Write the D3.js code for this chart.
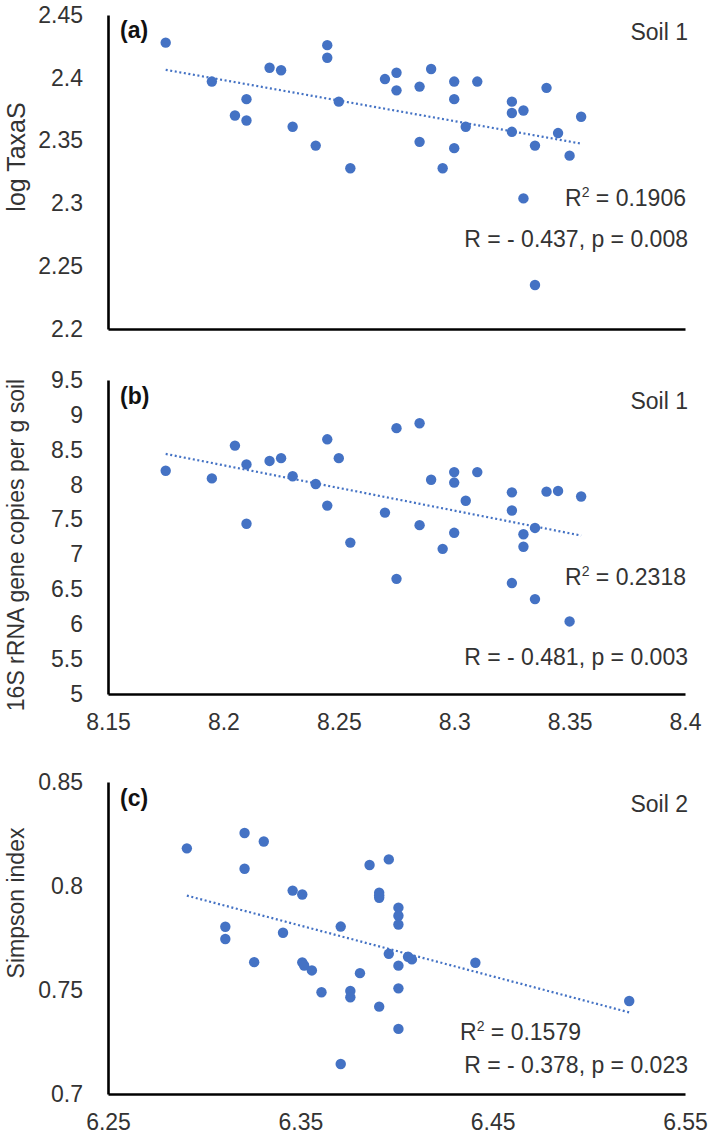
<!DOCTYPE html>
<html>
<head>
<meta charset="utf-8">
<script src="https://cdn.jsdelivr.net/npm/d3@7"></script>
<style>
  html, body { margin: 0; padding: 0; background: #fff; }
  svg { display: block; }
  text { font-family: "Liberation Sans", Arial, sans-serif; }
</style>
</head>
<body>
<svg id="chart" width="714" height="1144"></svg>
<script>
// ---------- DATA ----------
// Panel (a): Soil 1, x vs log TaxaS
const xA = [8.175,8.195,8.205,8.21,8.21,8.22,8.225,8.23,8.24,8.245,8.245,8.25,8.255,8.27,8.275,8.275,8.285,8.29,8.30,8.30,8.31,8.285,8.30,8.295,8.305,8.325,8.325,8.33,8.325,8.34,8.345,8.335,8.355,8.35,8.33,8.335];
const yA = [2.428,2.397,2.370,2.383,2.366,2.408,2.406,2.361,2.346,2.426,2.416,2.381,2.328,2.399,2.404,2.390,2.393,2.407,2.397,2.383,2.397,2.349,2.344,2.328,2.361,2.381,2.372,2.374,2.357,2.392,2.356,2.346,2.369,2.338,2.304,2.235];

// Panel (b): Soil 1, x vs 16S rRNA gene copies per g soil
const xB = [8.175,8.195,8.205,8.21,8.21,8.22,8.225,8.23,8.24,8.245,8.245,8.25,8.255,8.27,8.275,8.275,8.285,8.285,8.29,8.30,8.30,8.31,8.305,8.30,8.295,8.325,8.325,8.34,8.345,8.355,8.335,8.33,8.33,8.325,8.335,8.35];
const yB = [8.20,8.09,8.56,8.29,7.44,8.34,8.38,8.12,8.01,8.65,7.70,8.38,7.17,7.60,8.81,6.65,8.88,7.42,8.07,8.18,8.03,8.18,7.77,7.31,7.08,7.89,7.63,7.90,7.91,7.83,7.38,7.29,7.11,6.59,6.36,6.04];

// Panel (c): Soil 2, x vs Simpson index
const xC = [6.291,6.321,6.331,6.321,6.346,6.351,6.311,6.311,6.341,6.371,6.326,6.351,6.352,6.356,6.361,6.376,6.376,6.381,6.391,6.386,6.396,6.391,6.391,6.396,6.401,6.401,6.401,6.406,6.401,6.401,6.401,6.371,6.441,6.521,6.408,6.391];
const yC = [0.8181,0.8255,0.8214,0.8083,0.7978,0.7959,0.7804,0.7745,0.7775,0.7805,0.7634,0.7633,0.7618,0.7594,0.7489,0.7495,0.7465,0.7581,0.7420,0.8101,0.8128,0.7968,0.7943,0.7674,0.7896,0.7857,0.7815,0.7660,0.7617,0.7508,0.7313,0.7144,0.7631,0.7447,0.7647,0.7955];

// Axis ticks
const xTicksAB = [8.15, 8.2, 8.25, 8.3, 8.35, 8.4];
const yTicksA = [2.2, 2.25, 2.3, 2.35, 2.4, 2.45];
const yTicksB = [5, 5.5, 6, 6.5, 7, 7.5, 8, 8.5, 9, 9.5];
const xTicksC = [6.25, 6.35, 6.45, 6.55];
const yTicksC = [0.7, 0.75, 0.8, 0.85];

// Texts
const panelLabels = ["(a)", "(b)", "(c)"];
const soilLabels = ["Soil 1", "Soil 1", "Soil 2"];
const r2Values = ["0.1906", "0.2318", "0.1579"];
const rpTexts = ["R = - 0.437, p = 0.008", "R = - 0.481, p = 0.003", "R = - 0.378, p = 0.023"];
const yTitles = ["log TaxaS", "16S rRNA gene copies per g soil", "Simpson index"];

// ---------- LAYOUT ----------
const svg = d3.select("#chart");
const left = 108, right = 685;
const blue = "#4472C4";
const textColor = "#333";
const fs = 23;

const panels = [
  { x: xA, y: yA, xDom: [8.15, 8.4], yDom: [2.2, 2.45], top: 15, bottom: 329, xt: null, yt: yTicksA,
    lab: [120, 38], soil: [688, 40], r2: {x: 686, y: 206, anchor: "end"}, rp: [688, 247], title: [25, 157], tfs: 25 },
  { x: xB, y: yB, xDom: [8.15, 8.4], yDom: [5, 9.5], top: 380, bottom: 694, xt: xTicksAB, yt: yTicksB,
    lab: [120, 404], soil: [688, 409], r2: {x: 686, y: 585, anchor: "end"}, rp: [688, 665], title: [24, 545], tfs: 23 },
  { x: xC, y: yC, xDom: [6.25, 6.55], yDom: [0.7, 0.85], top: 782, bottom: 1094, xt: xTicksC, yt: yTicksC,
    lab: [120, 806], soil: [688, 812], r2: {x: 460, y: 1040, anchor: "start"}, rp: [688, 1073], title: [24, 903], tfs: 23 }
];

panels.forEach((p, i) => {
  const x = d3.scaleLinear().domain(p.xDom).range([left, right]);
  const y = d3.scaleLinear().domain(p.yDom).range([p.bottom, p.top]);
  const g = svg.append("g");

  // Y axis
  const ya = g.append("g").attr("transform", `translate(${left},0)`)
    .call(d3.axisLeft(y).tickValues(p.yt).tickSize(0).tickSizeOuter(0).tickPadding(25).tickFormat(d => String(d)));
  ya.select(".domain").attr("stroke", "#000").attr("stroke-width", 2.6);
  ya.selectAll("text").attr("font-size", fs).attr("fill", textColor)
    .attr("font-family", "'Liberation Sans', Arial, sans-serif");

  // X axis
  const xa = g.append("g").attr("transform", `translate(0,${p.bottom})`)
    .call(d3.axisBottom(x).tickValues(p.xt || []).tickSize(0).tickSizeOuter(0).tickPadding(20).tickFormat(d => String(d)));
  xa.select(".domain").attr("stroke", "#000").attr("stroke-width", 2.6);
  xa.selectAll("text").attr("font-size", fs).attr("fill", textColor)
    .attr("font-family", "'Liberation Sans', Arial, sans-serif");

  // Trend line (least squares)
  const n = p.x.length;
  const mx = d3.mean(p.x), my = d3.mean(p.y);
  let sxy = 0, sxx = 0;
  for (let k = 0; k < n; k++) { sxy += (p.x[k]-mx)*(p.y[k]-my); sxx += (p.x[k]-mx)*(p.x[k]-mx); }
  const slope = sxy / sxx, icpt = my - slope * mx;
  const [x0, x1] = d3.extent(p.x);
  g.append("line")
    .attr("x1", x(x0)).attr("y1", y(icpt + slope * x0))
    .attr("x2", x(x1)).attr("y2", y(icpt + slope * x1))
    .attr("stroke", blue).attr("stroke-width", 2.2)
    .attr("stroke-dasharray", "2 2.6");

  // Points
  g.append("g").selectAll("circle")
    .data(d3.range(n))
    .join("circle")
    .attr("cx", k => x(p.x[k]))
    .attr("cy", k => y(p.y[k]))
    .attr("r", 5.2)
    .attr("fill", blue);

  // Panel label
  g.append("text").attr("x", p.lab[0]).attr("y", p.lab[1])
    .attr("font-size", fs).attr("font-weight", "bold").attr("fill", "#111")
    .text(panelLabels[i]);

  // Soil label
  g.append("text").attr("x", p.soil[0]).attr("y", p.soil[1])
    .attr("font-size", fs).attr("text-anchor", "end").attr("fill", textColor)
    .text(soilLabels[i]);

  // R² text
  const r2 = g.append("text").attr("x", p.r2.x).attr("y", p.r2.y)
    .attr("font-size", fs).attr("text-anchor", p.r2.anchor).attr("fill", textColor);
  r2.append("tspan").text("R");
  r2.append("tspan").attr("dy", -9).attr("font-size", 14).text("2");
  r2.append("tspan").attr("dy", 9).text(" = " + r2Values[i]);

  // R, p text
  g.append("text").attr("x", p.rp[0]).attr("y", p.rp[1])
    .attr("font-size", fs).attr("text-anchor", "end").attr("fill", textColor)
    .text(rpTexts[i]);

  // Y title
  g.append("text")
    .attr("transform", `translate(${p.title[0]},${p.title[1]}) rotate(-90)`)
    .attr("text-anchor", "middle").attr("font-size", p.tfs).attr("fill", textColor)
    .text(yTitles[i]);
});
</script>
</body>
</html>
